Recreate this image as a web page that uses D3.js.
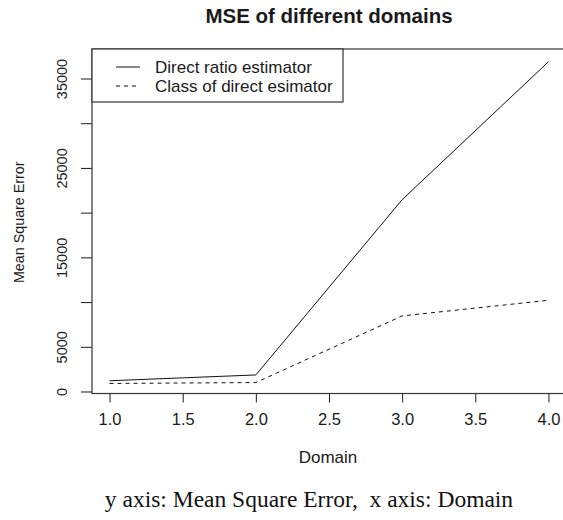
<!DOCTYPE html>
<html><head><meta charset="utf-8">
<script src="https://cdn.jsdelivr.net/npm/d3@7"></script>
<style>body{margin:0;background:#fff}</style>
</head><body>
<svg id="c" width="563" height="520"></svg>
<script>
const domains = [1, 2, 3, 4];
const directRatio = [1200, 1850, 21450, 36870];
const classDirect = [900, 1000, 8450, 10200];
const xTicks = [1.0, 1.5, 2.0, 2.5, 3.0, 3.5, 4.0];
const yTicks = [0, 5000, 10000, 15000, 20000, 25000, 30000, 35000];
const yTickLabels = [0, 5000, 15000, 25000, 35000];
const seriesNames = ["Direct ratio estimator", "Class of direct esimator"];

const svg = d3.select("#c");
const L = 92, R = 566, T = 49, B = 393.5;
const x = d3.scaleLinear().domain([0.88, 4.12]).range([L, R]);
const y = d3.scaleLinear().domain([-224, 38298]).range([B, T]);
const font = "'Liberation Sans', Arial, sans-serif";
const ink = "#1a1a1a";

// title
svg.append("text").attr("x", (L + R) / 2).attr("y", 23).attr("text-anchor", "middle")
  .attr("font-family", font).attr("font-weight", "bold").attr("font-size", 20.5)
  .attr("fill", ink).text("MSE of different domains");

// x axis
const xa = svg.append("g").attr("transform", `translate(0,${B})`)
  .call(d3.axisBottom(x).tickValues(xTicks).tickFormat(d3.format(".1f")).tickSizeOuter(0).tickSizeInner(9).tickPadding(11));
xa.select(".domain").remove();
xa.selectAll("line").attr("stroke", ink);
xa.selectAll("text").attr("font-family", font).attr("font-size", 16.5).attr("fill", ink);

// y axis
const ya = svg.append("g").attr("transform", `translate(${L},0)`)
  .call(d3.axisLeft(y).tickValues(yTicks).tickFormat(d => yTickLabels.includes(d) ? d : "").tickSizeOuter(0).tickSizeInner(11).tickPadding(0));
ya.select(".domain").remove();
ya.selectAll("line").attr("stroke", ink);
ya.selectAll(".tick text").attr("font-family", font).attr("font-size", 14.5).attr("fill", ink)
  .attr("text-anchor", "middle").attr("x", 0).attr("y", 0)
  .attr("transform", "translate(-30,0) rotate(-90)").attr("dy", "0.35em");

// box
svg.append("rect").attr("x", L).attr("y", T).attr("width", R - L).attr("height", B - T)
  .attr("fill", "none").attr("stroke", "#333").attr("stroke-width", 1.2);

// axis titles
svg.append("text").attr("x", (L + R) / 2 - 1).attr("y", 463).attr("text-anchor", "middle")
  .attr("font-family", font).attr("font-size", 17).attr("fill", ink).text("Domain");
svg.append("text").attr("transform", `translate(24,${(T + B) / 2 + 1}) rotate(-90)`).attr("text-anchor", "middle")
  .attr("font-family", font).attr("font-size", 14.3).attr("fill", ink).text("Mean Square Error");

// lines
const line = d3.line().x((d, i) => x(domains[i])).y(d => y(d));
svg.append("path").datum(directRatio).attr("d", line).attr("fill", "none").attr("stroke", "#111").attr("stroke-width", 1);
svg.append("path").datum(classDirect).attr("d", line).attr("fill", "none").attr("stroke", "#111").attr("stroke-width", 1).attr("stroke-dasharray", "4,4");

// legend
const lg = svg.append("g");
lg.append("rect").attr("x", L).attr("y", T).attr("width", 251).attr("height", 53)
  .attr("fill", "#fff").attr("stroke", "#333").attr("stroke-width", 1.2);
const dashes = [null, "4,4"];
seriesNames.forEach((n, i) => {
  const yy = 67 + i * 19;
  lg.append("line").attr("x1", 116).attr("x2", 140).attr("y1", yy).attr("y2", yy)
    .attr("stroke", "#111").attr("stroke-dasharray", dashes[i]);
  lg.append("text").attr("x", 155).attr("y", yy).attr("dy", "0.35em").attr("font-family", font)
    .attr("font-size", 17).attr("fill", ink).text(n);
});

// caption
svg.append("text").attr("x", 309).attr("y", 507).attr("text-anchor", "middle")
  .attr("font-family", "'Liberation Serif', 'Times New Roman', serif").attr("font-size", 23.5).attr("fill", "#111")
  .style("white-space", "pre").text("y axis: Mean Square Error,  x axis: Domain");
</script>
</body></html>
